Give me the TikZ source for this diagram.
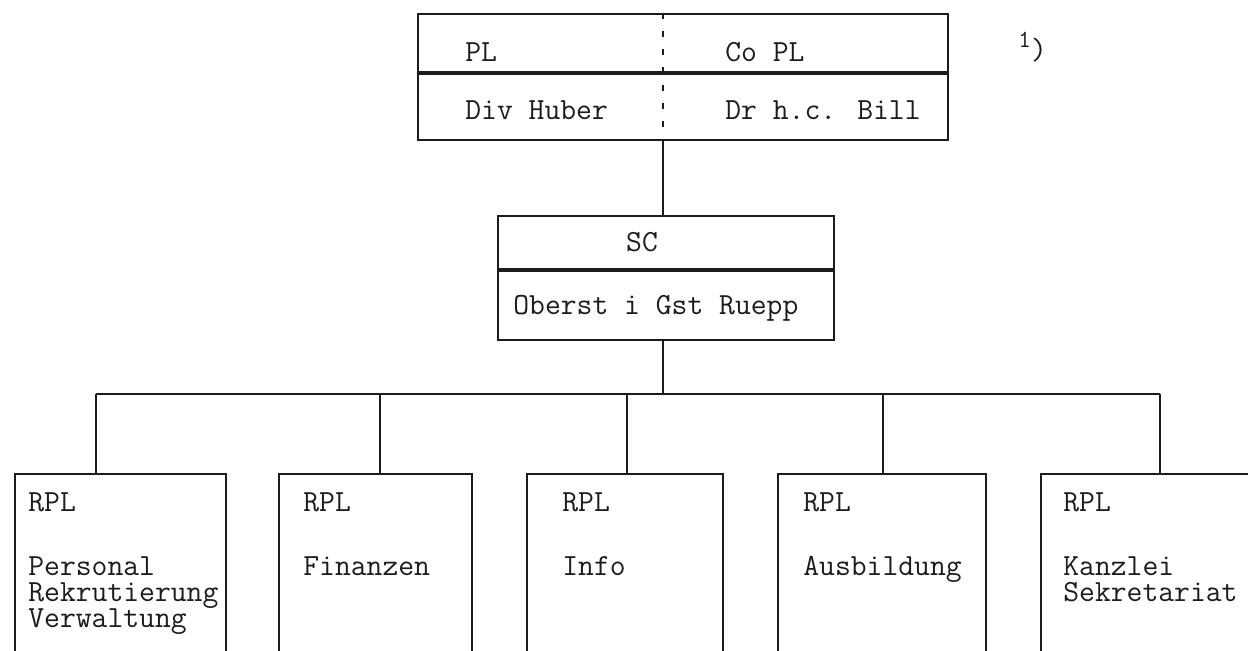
\documentclass[tikz,border=0pt]{standalone}
\usepackage{tikz}
\usetikzlibrary{positioning,calc}
\definecolor{InkBlack}{HTML}{1C1C1C}
\newcommand\orgfont{\fontsize{17.5}{14.9}\selectfont\ttfamily\lineskiplimit=-20pt\relax}

\tikzset{
  orgbox/.style={draw=InkBlack,line width=1.1pt,rectangle,inner sep=0pt},
  orgtext/.style={font=\orgfont,text=InkBlack,inner sep=0pt,align=left},
  orglink/.style={draw=InkBlack,line width=1.1pt},
}

\begin{document}
\begin{tikzpicture}[x=0.02cm,y=-0.02cm]
  \useasboundingbox (0,0) rectangle (1248,651);
  \clip (0,0) rectangle (1248,651);
  \fill[white] (0,0) rectangle (1248,651);

  % project lead and co-lead
  \node[orgbox,minimum width=10.6cm,minimum height=1.16cm,anchor=north west] (plrow) at (417,13) {};
  \node[orgbox,minimum width=10.6cm,minimum height=1.32cm,anchor=north] (namerow) at (plrow.south) {};
  \node[orgtext,anchor=base west] (pl) at (465,62) {PL};
  \node[orgtext,anchor=base west] (copl) at (725,62) {Co PL};
  \node[orgtext,anchor=base west] (huber) at (465,120) {Div Huber};
  \node[orgtext,anchor=base west] (bill) at (725,120) {Dr h.c. Bill};
  \node[orgtext,anchor=base west] (note) at (1018,60) {\raisebox{7pt}{\fontsize{14}{14}\selectfont 1})};
  \coordinate (split) at (663,13);
  \draw[orglink,dash pattern=on 0.12cm off 0.24cm] (split) -- (split |- namerow.south);

  % staff chief
  \node[orgbox,minimum width=6.72cm,minimum height=1.06cm,anchor=north west] (scrow) at (497,215) {};
  \node[orgbox,minimum width=6.72cm,minimum height=1.38cm,anchor=north] (rupprow) at (scrow.south) {};
  \node[orgtext,anchor=base] (sc) at (642,252) {SC};
  \node[orgtext,anchor=base west] (ruepp) at (513,315) {Oberst i Gst Ruepp};
  \draw[orglink] (split |- namerow.south) -- (split |- scrow.north);

  % sub-project leads
  \coordinate (bus) at (663,394);
  \draw[orglink] (rupprow.south -| bus) -- (bus);
  \foreach \n/\x/\w/\tx/\d/\lab in {1/14/4.22/28/96/{Personal\\Rekrutierung\\Verwaltung},
      2/278/3.86/303/380/Finanzen, 3/526/3.92/562/627/Info,
      4/777/4.16/803/883/Ausbildung, 5/1040/5/1063/1160/{Kanzlei\\Sekretariat}}{
    \node[orgbox,minimum width=\w cm,minimum height=4cm,anchor=north west] (rpl\n) at (\x,473) {};
    \node[orgtext,anchor=base west] (rplhead\n) at (\tx,512) {RPL};
    \node[orgtext,anchor=north west] (rpltask\n) at (\tx,556) {\lab};
    \coordinate (drop\n) at (\d,394);
    \draw[orglink] (drop\n) -- (drop\n |- rpl\n.north);
  }
  \draw[orglink] (drop1) -- (drop5);
\end{tikzpicture}
\end{document}
